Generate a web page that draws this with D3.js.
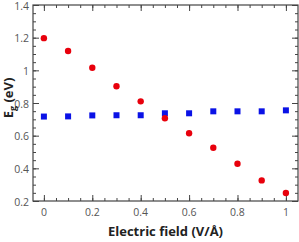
<!DOCTYPE html>
<html>
<head>
<meta charset="utf-8">
<script src="https://cdn.jsdelivr.net/npm/d3@7"></script>
<style>
  body { margin: 0; background: #fff; }
  text { font-family: "Open Sans", "DejaVu Sans", sans-serif; }
</style>
</head>
<body>
<div id="chart"></div>
<script>
// electric field values (V/Å)
let fields = [0, 0.1, 0.2, 0.3, 0.4, 0.5, 0.6, 0.7, 0.8, 0.9, 1.0];
// band gap, red circles
let gapRed = [1.197, 1.118, 1.016, 0.903, 0.81, 0.707, 0.615, 0.526, 0.428, 0.326, 0.249];
// band gap, blue squares
let gapBlue = [0.717, 0.718, 0.724, 0.725, 0.725, 0.737, 0.737, 0.749, 0.749, 0.749, 0.755];
let xTicks = [0, 0.2, 0.4, 0.6, 0.8, 1];
let yTicks = [0.2, 0.4, 0.6, 0.8, 1, 1.2, 1.4];

var W = 299, H = 242;
var m = { left: 33, right: 1, top: 5, bottom: 41 };

var svg = d3.select('#chart').append('svg')
    .attr('width', W).attr('height', H);

var x = d3.scaleLinear().domain([-0.045, 1.05]).range([m.left, W - m.right]);
var y = d3.scaleLinear().domain([0.2, 1.4]).range([H - m.bottom, m.top]);

var minorX = d3.range(0, 1.0001, 0.05);
var minorY = d3.range(0.2, 1.4001, 0.05);

var axisColor = '#444';

// minor ticks (inward) on all four sides
svg.append('g').attr('transform', 'translate(0,' + (H - m.bottom) + ')')
    .call(d3.axisTop(x).tickValues(minorX).tickSize(3).tickFormat(''));
svg.append('g').attr('transform', 'translate(0,' + m.top + ')')
    .call(d3.axisBottom(x).tickValues(minorX).tickSize(3).tickFormat(''));
svg.append('g').attr('transform', 'translate(' + m.left + ',0)')
    .call(d3.axisRight(y).tickValues(minorY).tickSize(3).tickFormat(''));
svg.append('g').attr('transform', 'translate(' + (W - m.right) + ',0)')
    .call(d3.axisLeft(y).tickValues(minorY).tickSize(3).tickFormat(''));

// major ticks
svg.append('g').attr('transform', 'translate(0,' + (H - m.bottom) + ')')
    .call(d3.axisTop(x).tickValues(xTicks).tickSize(6).tickFormat(''));
svg.append('g').attr('transform', 'translate(0,' + m.top + ')')
    .call(d3.axisBottom(x).tickValues(xTicks).tickSize(6).tickFormat(''));
svg.append('g').attr('transform', 'translate(' + m.left + ',0)')
    .call(d3.axisRight(y).tickValues(yTicks).tickSize(6).tickFormat(''));
svg.append('g').attr('transform', 'translate(' + (W - m.right) + ',0)')
    .call(d3.axisLeft(y).tickValues(yTicks).tickSize(6).tickFormat(''));

svg.selectAll('.domain').remove();
svg.selectAll('.tick line').attr('stroke', axisColor);

// frame
svg.append('rect')
    .attr('x', m.left).attr('y', m.top)
    .attr('width', W - m.right - m.left).attr('height', H - m.bottom - m.top)
    .attr('fill', 'none').attr('stroke', axisColor).attr('stroke-width', 1.2);

// tick labels
var fmt = d => d3.format('')(+d.toFixed(1));
svg.append('g').selectAll('text').data(xTicks).enter().append('text')
    .attr('x', d => x(d)).attr('y', H - m.bottom + 15)
    .attr('text-anchor', 'middle').attr('font-size', 10.5).attr('fill', '#555')
    .text(fmt);
svg.append('g').selectAll('text').data(yTicks).enter().append('text')
    .attr('x', m.left - 4).attr('y', d => y(d) + 1).attr('dy', '0.35em')
    .attr('text-anchor', 'end').attr('font-size', 10.5).attr('fill', '#555')
    .text(fmt);

// axis titles
svg.append('text')
    .attr('x', (m.left + W - m.right) / 2).attr('y', H - 6)
    .attr('text-anchor', 'middle').attr('font-size', 13).attr('font-weight', 'bold')
    .attr('fill', '#222').text('Electric field (V/Å)');

var yl = svg.append('text')
    .attr('transform', 'translate(13,' + 98 + ') rotate(-90)')
    .attr('text-anchor', 'middle').attr('font-size', 13).attr('font-weight', 'bold')
    .attr('fill', '#222');
yl.append('tspan').text('E');
yl.append('tspan').attr('font-size', 9).attr('dy', 3).text('g');
yl.append('tspan').attr('dy', -3).text(' (eV)');

// blue squares
var s = 6;
svg.append('g').selectAll('rect').data(fields).enter().append('rect')
    .attr('x', (d, i) => x(d) - s / 2).attr('y', (d, i) => y(gapBlue[i]) - s / 2)
    .attr('width', s).attr('height', s).attr('fill', '#0a12e6');

// red circles
svg.append('g').selectAll('circle').data(fields).enter().append('circle')
    .attr('cx', d => x(d)).attr('cy', (d, i) => y(gapRed[i]))
    .attr('r', 3.2).attr('fill', '#e8000c');
</script>
</body>
</html>
